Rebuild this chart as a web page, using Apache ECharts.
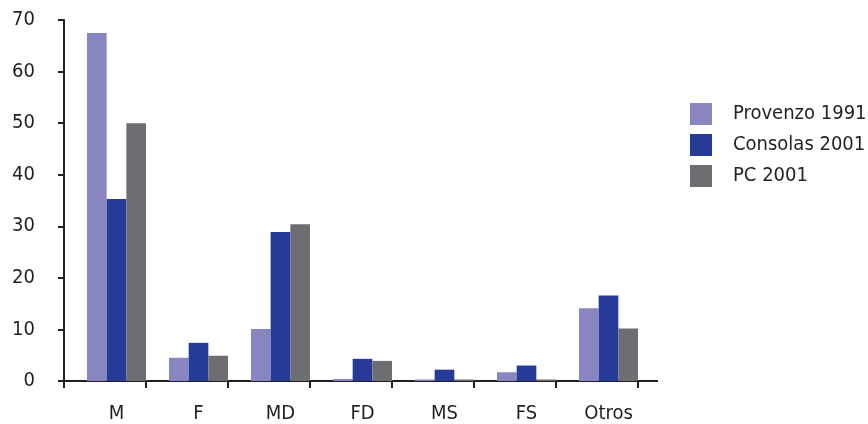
<!DOCTYPE html>
<html>
<head>
<meta charset="utf-8">
<script src="https://cdn.jsdelivr.net/npm/echarts@6/dist/echarts.min.js"></script>
<style>html,body{margin:0;padding:0;background:#fff;}#c{width:868px;height:424px;}</style>
</head>
<body>
<div id="c"></div>
<script>
const categories = ['M', 'F', 'MD', 'FD', 'MS', 'FS', 'Otros'];
const seriesNames = ['Provenzo 1991', 'Consolas 2001', 'PC 2001'];
const provenzo1991 = [67.5, 4.5, 10.1, 0.4, 0.3, 1.7, 14.1];
const consolas2001 = [35.3, 7.4, 28.9, 4.3, 2.2, 3.0, 16.6];
const pc2001 = [50.0, 4.9, 30.4, 3.9, 0.3, 0.3, 10.2];
const yTicks = [0, 10, 20, 30, 40, 50, 60, 70];

const colors = ['#8886c0', '#263a97', '#6d6e72'];
const font = 'DejaVu Sans Condensed';
const ink = '#231f20';
const GL = 64, GW = 574, GT = 20, GB = 43;

const chart = echarts.init(document.getElementById('c'), null, {renderer: 'canvas'});
const values = [provenzo1991, consolas2001, pc2001];
const series = [{
  name: '_spacer', type: 'bar', data: [], barWidth: 23, barGap: '0%', silent: true
}].concat(seriesNames.map((n, i) => ({
  name: n, type: 'bar', data: values[i], barWidth: 19.67, barGap: '0%',
  itemStyle: {color: colors[i]}, silent: true
})));

chart.setOption({
  animation: false,
  color: ['transparent'].concat(colors),
  grid: {left: GL, width: GW, top: GT, bottom: GB, containLabel: false},
  legend: {
    data: seriesNames.map(n => ({name: n, icon: 'rect'})),
    orient: 'vertical', left: 690, top: 103, padding: 0,
    itemWidth: 22, itemHeight: 22, itemGap: 9,
    textStyle: {fontFamily: font, fontSize: 20, color: ink, padding: [0, 0, 0, 16], lineHeight: 22}
  },
  xAxis: {
    type: 'category', data: categories,
    axisLine: {lineStyle: {color: ink, width: 2}},
    axisTick: {show: true, length: 7, lineStyle: {color: ink, width: 2}},
    axisLabel: {fontFamily: font, fontSize: 20, color: ink, margin: 23, padding: [0, 0, 0, 23]}
  },
  yAxis: {
    type: 'value', min: yTicks[0], max: yTicks[yTicks.length - 1], interval: 10,
    splitLine: {show: false},
    axisLine: {show: true, lineStyle: {color: ink, width: 2}},
    axisTick: {show: true, length: 6, lineStyle: {color: ink, width: 2}},
    axisLabel: {fontFamily: font, fontSize: 20, color: ink, margin: 29,
      formatter: v => yTicks.includes(v) ? String(v) : ''}
  },
  series: series
});

const y0 = chart.convertToPixel({yAxisIndex: 0}, 0);
chart.setOption({
  graphic: [{
    type: 'line', silent: true,
    shape: {x1: GL + GW, y1: y0, x2: GL + GW + 20, y2: y0},
    style: {stroke: ink, lineWidth: 2}
  }]
});
</script>
</body>
</html>
